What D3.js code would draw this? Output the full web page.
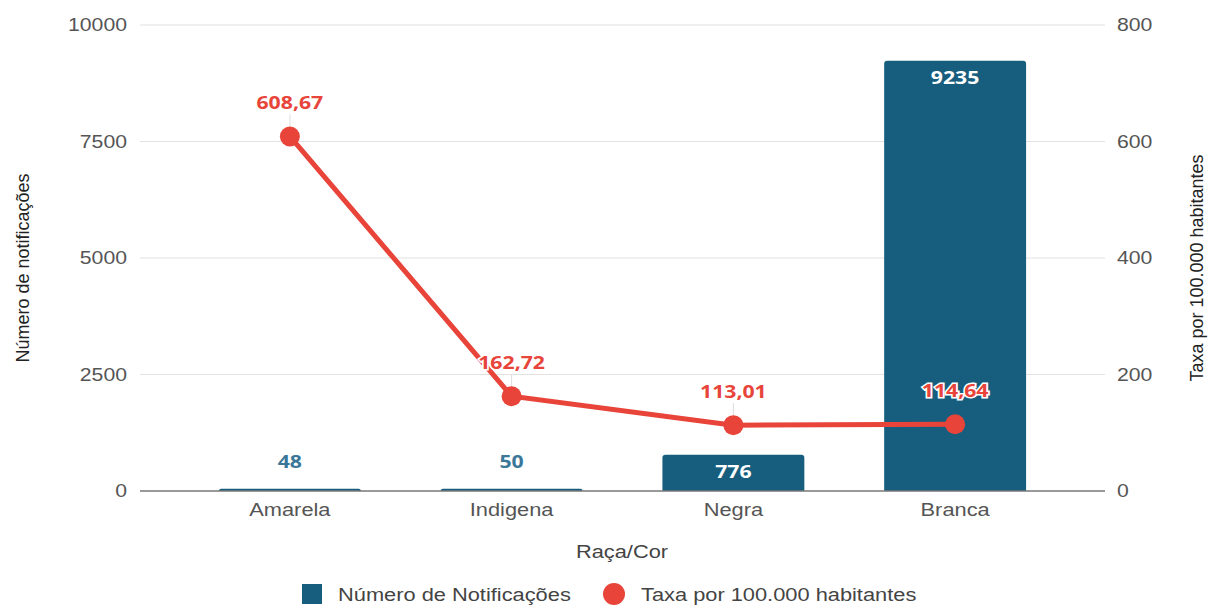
<!DOCTYPE html>
<html>
<head>
  <meta charset="utf8" />
  <style>
    body { margin: 0; background: #fff; }
    text { font-family: "Liberation Sans", Arial, sans-serif; }
    .tick text { font-size: 18px; fill: #555; }
    .val { font-family: "Open Sans", sans-serif; font-weight: 700; font-size: 18px; text-anchor: middle; }
  </style>
</head>
<body>
  <script src="https://d3js.org/d3.v7.min.js"></script>
  <script>
    var categories = ["Amarela", "Indigena", "Negra", "Branca"],
        notificacoes = [48, 50, 776, 9235],
        taxa = [608.67, 162.72, 113.01, 114.64],
        leftTicks = [0, 2500, 5000, 7500, 10000],
        rightTicks = [0, 200, 400, 600, 800];

    var width = 1209, height = 605,
        plotLeft = 140, plotRight = 1105, plotTop = 25, plotBottom = 491;

    var barColor = "#175e7e", lineColor = "#e8443a";
    var sx = 1.18; // the picture is a bit wider than tall, text looks stretched

    // stretch horizontal texts around their anchor x
    function stretch(sel) {
      sel.each(function() {
        var ax = +(this.getAttribute("x") || 0);
        d3.select(this).attr("transform", "translate(" + ax + ",0) scale(" + sx + ",1) translate(" + (-ax) + ",0)");
      });
    }

    var svg = d3.select("body").append("svg").attr("width", width).attr("height", height);

    var x = d3.scaleBand().domain(categories).range([179, 1066]).paddingInner(0.36).paddingOuter(0.18);
    var yL = d3.scaleLinear().domain([0, 10000]).range([plotBottom, plotTop]);
    var yR = d3.scaleLinear().domain([0, 800]).range([plotBottom, plotTop]);
    var cx = d => x(d) + x.bandwidth() / 2;

    // gridlines
    svg.append("g").selectAll("line")
        .data(leftTicks.slice(1))
      .enter().append("line")
        .attr("x1", plotLeft).attr("x2", plotRight)
        .attr("y1", d => yL(d)).attr("y2", d => yL(d))
        .attr("stroke", "#e2e2e2").attr("stroke-width", 1.2);

    // left axis
    var gL = svg.append("g").attr("transform", "translate(" + (plotLeft - 9) + ",0)")
        .call(d3.axisLeft(yL).tickValues(leftTicks).tickFormat(d3.format("d")).tickSize(0).tickPadding(4));
    gL.select(".domain").remove();
    gL.selectAll(".tick text").call(stretch);

    // right axis
    var gR = svg.append("g").attr("transform", "translate(" + (plotRight + 8) + ",0)")
        .call(d3.axisRight(yR).tickValues(rightTicks).tickSize(0).tickPadding(4));
    gR.select(".domain").remove();
    gR.selectAll(".tick text").call(stretch);

    // faint leader lines from labels to points (behind the bars)
    svg.append("g").selectAll("line")
        .data(taxa)
      .enter().append("line")
        .attr("x1", (d, i) => cx(categories[i])).attr("x2", (d, i) => cx(categories[i]))
        .attr("y1", d => yR(d) - 22).attr("y2", d => yR(d))
        .attr("stroke", "#ddd").attr("stroke-width", 1);

    // bars (rounded top corners)
    var r = 3;
    svg.append("g").selectAll("path")
        .data(notificacoes)
      .enter().append("path")
        .attr("fill", barColor)
        .attr("d", (d, i) => {
          var x0 = x(categories[i]), w = x.bandwidth(), y0 = yL(d), h = plotBottom - y0;
          var rr = Math.min(r, h);
          return "M" + x0 + "," + plotBottom + "V" + (y0 + rr) + "Q" + x0 + "," + y0 + " " + (x0 + rr) + "," + y0 +
                 "H" + (x0 + w - rr) + "Q" + (x0 + w) + "," + y0 + " " + (x0 + w) + "," + (y0 + rr) + "V" + plotBottom + "Z";
        });

    // baseline
    svg.append("line").attr("x1", plotLeft).attr("x2", plotRight).attr("y1", plotBottom).attr("y2", plotBottom)
        .attr("stroke", "#777").attr("stroke-width", 1.3);

    // x axis labels
    var gX = svg.append("g").attr("transform", "translate(0," + plotBottom + ")")
        .call(d3.axisBottom(x).tickSize(0).tickPadding(12));
    gX.select(".domain").remove();
    gX.selectAll(".tick text").style("font-size", "18.5px").attr("fill", "#444").call(stretch);

    // bar labels
    svg.append("g").selectAll("text")
        .data(notificacoes)
      .enter().append("text")
        .attr("class", "val")
        .attr("x", (d, i) => cx(categories[i]))
        .attr("y", d => (plotBottom - yL(d) > 25) ? yL(d) + 23 : yL(d) - 21)
        .attr("fill", d => (plotBottom - yL(d) > 25) ? "#fff" : "#3a7798")
        .text(d => d)
        .call(stretch);

    // line
    var line = d3.line().x((d, i) => cx(categories[i])).y(d => yR(d));
    svg.append("path").datum(taxa)
        .attr("d", line).attr("fill", "none")
        .attr("stroke", lineColor).attr("stroke-width", 5);

    svg.append("g").selectAll("circle")
        .data(taxa)
      .enter().append("circle")
        .attr("cx", (d, i) => cx(categories[i]))
        .attr("cy", d => yR(d))
        .attr("r", 10).attr("fill", lineColor);

    svg.append("g").selectAll("text")
        .data(taxa)
      .enter().append("text")
        .attr("class", "val")
        .attr("x", (d, i) => cx(categories[i]))
        .attr("y", d => yR(d) - 27)
        .attr("fill", lineColor)
        .attr("stroke", "#fff").attr("stroke-width", 3).attr("paint-order", "stroke")
        .text(d => d.toFixed(2).replace(".", ","))
        .call(stretch);

    // axis titles
    svg.append("text")
        .attr("transform", "translate(29,268) rotate(-90)")
        .attr("text-anchor", "middle").style("font-size", "18px").attr("fill", "#222")
        .text("Número de notificações");

    svg.append("text")
        .attr("transform", "translate(1203,268) rotate(-90)")
        .attr("text-anchor", "middle").style("font-size", "18px").attr("fill", "#222")
        .text("Taxa por 100.000 habitantes");

    svg.append("text")
        .attr("x", 622).attr("y", 558.5)
        .attr("text-anchor", "middle").style("font-size", "18.5px").attr("fill", "#444")
        .text("Raça/Cor")
        .call(stretch);

    // legend
    var legend = svg.append("g").attr("transform", "translate(0,594)");
    legend.append("rect").attr("x", 302).attr("y", -10).attr("width", 20).attr("height", 20).attr("fill", barColor);
    legend.append("text").attr("x", 338).attr("y", 6.5).style("font-size", "18.5px").attr("fill", "#444")
        .text("Número de Notificações").call(stretch);
    legend.append("circle").attr("cx", 614).attr("cy", 0).attr("r", 11).attr("fill", lineColor);
    legend.append("text").attr("x", 641).attr("y", 6.5).style("font-size", "18.5px").attr("fill", "#444")
        .text("Taxa por 100.000 habitantes").call(stretch);
  </script>
</body>
</html>
